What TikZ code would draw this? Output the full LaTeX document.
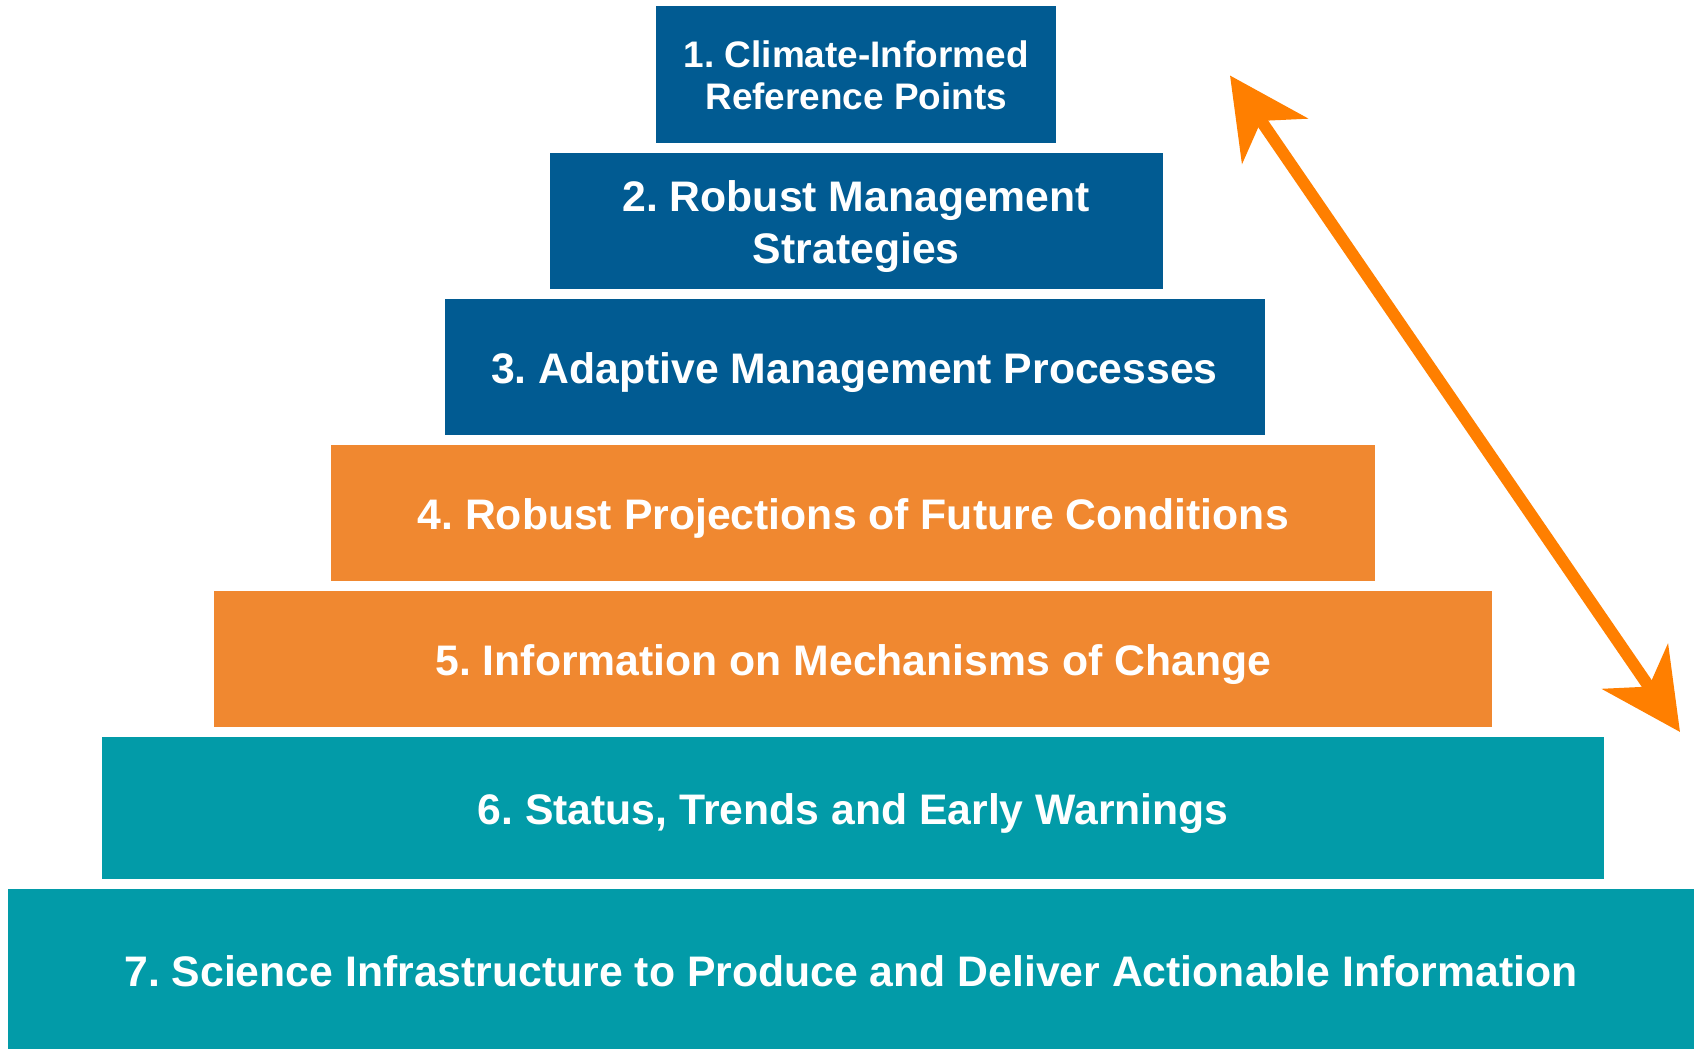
\documentclass[tikz,border=0pt]{standalone}
\usepackage{fontspec}
\setmainfont{Liberation Sans}
\usetikzlibrary{arrows.meta}
\usetikzlibrary{positioning}
\definecolor{tblue}{RGB}{1, 91, 146}
\definecolor{torange}{RGB}{240, 136, 48}
\definecolor{tteal}{RGB}{2, 155, 168}
\definecolor{tarrow}{RGB}{255, 127, 0}

\begin{document}
\frenchspacing
\begin{tikzpicture}[x=0.01cm, y=-0.01cm, node distance=0.095cm,
    tier/.style={fill=#1, text=white, inner sep=0pt, outer sep=0pt, align=center, minimum height=1.365cm,
      text height=0.335cm, text depth=0cm, font=\bfseries\fontsize{12.15}{14.7}\selectfont}]
      \useasboundingbox (0, 0) rectangle (1700, 1049);

      \node [tier=tblue, minimum width=3.995cm, text height=0.69cm, font=\bfseries\fontsize{10.5}{11.85}\selectfont] (tier1) at (856.25, 74.75) {1. Climate-Informed\\Reference Points};
      \node [tier=tblue, minimum width=6.13cm, text height=0.85cm, below=of tier1] (tier2) {2. Robust Management\\Strategies};
      \node [tier=tblue, minimum width=8.195cm, below=of tier2, xshift=-0.0175cm] (tier3) {3. Adaptive Management Processes};
      \node [tier=torange, minimum width=10.44cm, below=of tier3, xshift=-0.0135cm] (tier4) {4. Robust Projections of Future Conditions};
      \node [tier=torange, minimum width=12.77cm, below=of tier4] (tier5) {5. Information on Mechanisms of Change};
      \node [tier=tteal, minimum width=15.01cm, minimum height=1.425cm, below=of tier5] (tier6) {6. Status, Trends and Early Warnings};
      \node [tier=tteal, minimum width=16.855cm, minimum height=1.62cm, below=of tier6, xshift=-0.0225cm] (tier7) {7. Science Infrastructure to Produce and Deliver Actionable Information};

      \coordinate (uptip) at (1230, 75.5);
      \coordinate (downtip) at (1680, 732);
      \draw [tarrow, line width=0.12cm, {Stealth[length=0.79cm, width=0.79cm, inset=0.24cm]}-{Stealth[length=0.79cm, width=0.79cm, inset=0.24cm]}] (uptip) -- (downtip);
    \end{tikzpicture}
\end{document}
